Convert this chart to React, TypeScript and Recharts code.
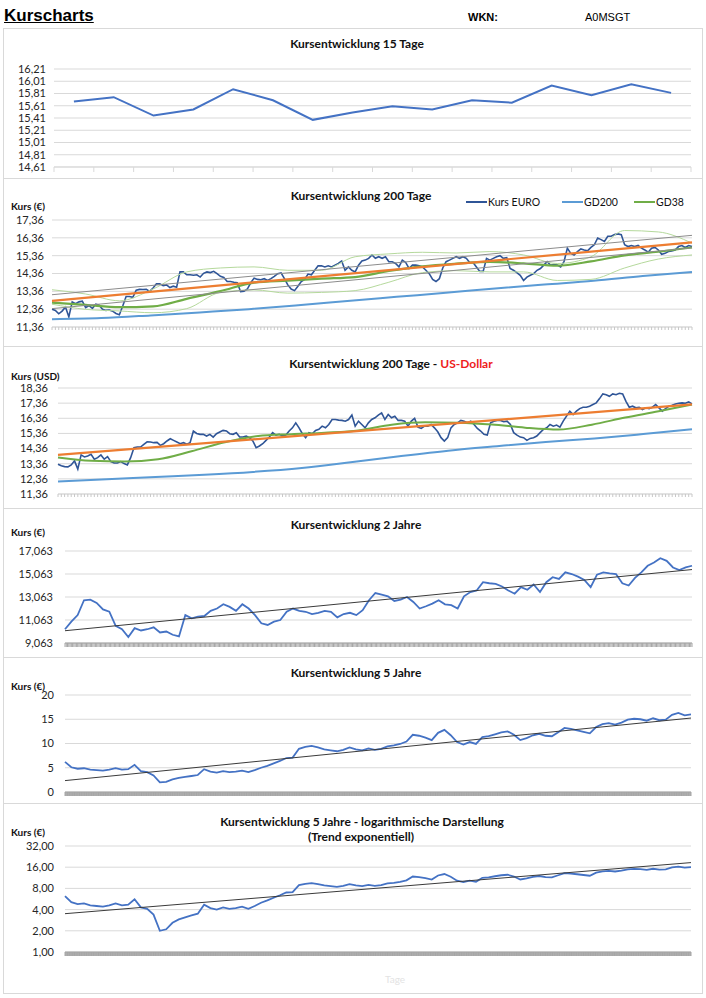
import React from 'react';
import { LineChart, Line, XAxis, YAxis, CartesianGrid } from 'recharts';

const FONT = "Lato, 'Open Sans', sans-serif";
const GRID = '#d9d9d9';
const INK = '#262626';

// Kursentwicklung 15 Tage
const kurs15 = [15.68, 15.75, 15.45, 15.55, 15.88, 15.7, 15.38, 15.5, 15.6, 15.55, 15.7, 15.66, 15.94, 15.78, 15.96, 15.82];
const ticks15 = [14.61, 14.81, 15.01, 15.21, 15.41, 15.61, 15.81, 16.01, 16.21];

// Kursentwicklung 200 Tage (EUR)
const kursEur = [
  12.35, 12.29, 12.1, 12.25, 12.48, 11.93, 12.77, 12.67, 12.77, 12.81,
  12.45, 12.56, 12.41, 12.64, 12.58, 12.35, 12.29, 12.31, 12.25, 12.12,
  12.05, 12.54, 13.07, 13.07, 13.02, 13.42, 13.47, 13.46, 13.47, 13.36,
  13.55, 13.78, 13.78, 13.68, 13.72, 13.57, 13.65, 13.59, 14.45, 14.45,
  14.29, 14.29, 14.26, 14.29, 14.16, 14.37, 14.45, 14.41, 14.48, 14.35,
  14.2, 14.14, 13.91, 13.91, 13.87, 13.84, 13.34, 13.36, 13.49, 13.84,
  14.1, 14.03, 14.01, 14.07, 13.97, 14.07, 14.2, 14.35, 14.39, 14.07,
  13.72, 13.49, 13.4, 13.65, 13.91, 14.03, 14.33, 14.29, 14.54, 14.79,
  14.79, 14.73, 14.79, 14.73, 14.83, 14.92, 15.06, 14.54, 14.73, 14.54,
  14.45, 14.83, 15.06, 15.11, 15.21,
  15.4, 15.21, 15.3, 15.21, 15.3, 15.02, 15.02, 14.92, 14.73, 15.11,
  14.98, 14.64, 14.83, 14.83, 14.79, 14.73, 14.54, 14.35, 14.03, 13.91,
  14.07, 14.67, 15.02, 15.11, 15.21, 15.3, 15.21, 15.3, 15.21, 14.98,
  14.98, 14.73, 14.48, 14.48, 15.21, 15.11, 15.21, 15.3, 15.36, 15.21,
  15.25, 14.64, 14.54, 14.41, 14.26, 13.97, 14.16, 14.26, 14.35, 14.54,
  14.64, 14.83, 15.02, 14.83, 14.86, 14.83, 14.73, 15.02, 15.78, 15.49,
  15.4, 15.59, 15.74, 15.68, 15.63, 15.82, 15.97, 16.35, 16.26, 16.16,
  16.45, 16.45, 16.54, 16.58, 16.54, 15.97, 15.87, 15.93, 15.87, 15.93,
  15.78, 15.68, 15.55, 15.78, 15.82, 15.68, 15.44, 15.49, 15.59, 15.63,
  15.68, 15.87, 15.93, 15.82, 15.93, 15.87,
];
const gd200Eur = [11.8, 11.86, 12.01, 12.18, 12.36, 12.58, 12.82, 13.05, 13.28, 13.52, 13.74, 13.95, 14.22, 14.45];
const gd38Eur = [12.73, 12.6, 12.47, 12.52, 12.94, 13.37, 13.85, 13.96, 14.07, 14.16, 14.5, 14.76, 14.91, 15.01, 14.93, 14.8, 15.04, 15.38, 15.58, 15.82];
const bandObenEur = [13.45, 13.21, 12.83, 13.49, 14.45, 14.67, 14.73, 14.54, 14.54, 15.3, 15.46, 15.55, 15.51, 15.59, 15.4, 14.92, 15.3, 16.77, 16.69, 16.06];
const bandUntenEur = [12.64, 12.35, 12.26, 12.16, 12.39, 13.3, 13.44, 13.26, 13.3, 13.4, 13.87, 14.41, 14.52, 14.45, 14.45, 13.97, 14.03, 14.67, 15.17, 15.4];
const trendEur = [12.83, 16.1];
const kanalObenEur = [13.17, 16.5];
const kanalUntenEur = [12.39, 15.8];
const ticksEur = [11.36, 12.36, 13.36, 14.36, 15.36, 16.36, 17.36];

// Kursentwicklung 200 Tage (USD)
const kursUsd = [
  13.33, 13.22, 13.17, 13.15, 13.28, 13.55, 13.0, 13.94, 13.81, 13.87,
  13.98, 13.66, 13.76, 13.94, 13.66, 13.83, 13.5, 13.41, 13.41, 13.5,
  13.37, 13.28, 13.76, 14.42, 14.46, 14.46, 14.64, 14.81, 14.79, 14.75,
  14.77, 14.57, 14.68, 14.86, 15.01, 14.9, 14.79, 14.68, 14.75, 14.64,
  14.75, 15.52, 15.36, 15.3, 15.3, 15.19, 15.3, 15.12, 15.34, 15.45,
  15.56, 15.52, 15.34, 15.3, 15.41, 15.12, 15.12, 15.19, 15.08, 14.86,
  14.42, 14.53, 14.68, 14.9, 15.12, 15.41, 15.25, 15.3, 15.19, 15.25,
  15.52, 15.73, 16.06, 15.73, 15.34, 15.08, 15.41, 15.34, 15.56, 15.63,
  15.84, 15.73, 15.95, 16.28, 16.28, 16.24, 16.22, 16.17, 16.28, 16.57,
  15.84, 16.17, 15.95, 15.73, 16.06, 16.28, 16.39,
  16.57, 16.72, 16.28, 16.61, 16.39, 16.5, 16.22, 16.22, 16.17, 15.84,
  16.17, 16.35, 15.78, 15.69, 15.84, 15.84, 15.95, 15.73, 15.47, 15.08,
  14.86, 15.08, 15.73, 15.95, 16.06, 16.22, 16.17, 16.06, 16.17, 15.95,
  15.69, 15.52, 15.3, 15.25, 16.06, 16.17, 16.22, 16.22, 16.13, 16.17,
  15.95, 15.41, 15.25, 15.12, 15.08, 14.9, 15.03, 15.08, 15.19, 15.41,
  15.63, 15.73, 15.95, 15.84, 15.91, 15.78, 16.17, 16.5, 16.83, 16.61,
  16.83, 17.0, 17.09, 17.09, 17.16, 17.27, 17.38, 17.66, 17.97, 17.92,
  17.81, 17.97, 17.92, 18.01, 17.97, 17.48, 17.09, 17.16, 17.05, 17.09,
  16.94, 17.05, 17.0, 17.09, 17.27, 17.05, 16.83, 17.0, 17.16, 17.22,
  17.31, 17.35, 17.38, 17.35, 17.44, 17.31,
];
const gd200Usd = [12.19, 12.33, 12.48, 12.63, 12.82, 13.08, 13.45, 13.85, 14.22, 14.52, 14.8, 15.03, 15.32, 15.63];
const gd38Usd = [13.77, 13.55, 13.5, 13.65, 14.18, 14.78, 15.19, 15.31, 15.41, 15.56, 15.94, 16.1, 16.07, 15.95, 15.74, 15.62, 15.94, 16.41, 16.82, 17.27];
const trendUsd = [13.94, 17.28];
const ticksUsd = [11.36, 12.36, 13.36, 14.36, 15.36, 16.36, 17.36, 18.36];

// Kursentwicklung 2 Jahre
const kurs2J = [
  10.26, 10.92, 11.49, 12.78, 12.83, 12.55, 11.98, 11.78, 10.55, 10.26,
  9.58, 10.35, 10.15, 10.26, 10.43, 9.98, 10.06, 9.78, 9.63, 11.49,
  11.21, 11.35, 11.41, 11.86, 12.06, 12.43, 12.2, 11.86, 12.43, 12.06,
  11.49, 10.78, 10.63, 10.92, 11.06, 11.78, 12.06, 11.86, 11.78, 11.58,
  11.69, 11.86, 11.78, 11.29, 11.58, 11.69, 11.49, 11.92, 12.78, 13.41,
  13.26, 13.12, 12.72, 12.83, 13.06, 12.63, 12.06, 12.26, 12.49, 12.78,
  12.43, 12.35, 12.06, 13.12, 13.49, 13.63, 14.35, 14.26, 14.21, 13.98,
  13.63, 13.35, 13.92, 13.69, 14.15, 13.49, 14.35, 14.78, 14.63, 15.21,
  15.06, 14.83, 14.55, 13.92, 15.01, 15.21, 15.12, 15.06, 14.26, 14.06,
  14.72, 15.21, 15.78, 16.06, 16.43, 16.21, 15.63, 15.41, 15.63, 15.78,
];
const trend2J = [10.13, 15.45];
const ticks2J = [9.063, 11.063, 13.063, 15.063, 17.063];

// Kursentwicklung 5 Jahre (linear und logarithmisch)
const kurs5J = [
  6.2, 5.1, 4.8, 4.9, 4.6, 4.5, 4.4, 4.6, 4.9, 4.6,
  4.7, 5.6, 4.3, 4.1, 3.4, 2.0, 2.1, 2.6, 2.9, 3.1,
  3.3, 3.5, 4.7, 4.2, 4.0, 4.3, 4.1, 4.2, 4.4, 4.1,
  4.5, 5.0, 5.4, 5.9, 6.4, 7.0, 7.1, 8.9, 9.3, 9.5,
  9.2, 8.8, 8.6, 8.4, 8.7, 9.2, 8.8, 8.6, 9.0, 8.7,
  8.9, 9.4, 9.6, 9.9, 10.4, 11.8, 11.6, 11.2, 10.7, 12.2,
  12.8, 11.7, 10.3, 9.8, 10.3, 9.9, 11.3, 11.5, 11.9, 12.3,
  12.5, 11.8, 10.7, 11.1, 11.7, 12.0, 11.6, 11.5, 12.3, 13.2,
  13.0, 12.7, 12.4, 12.1, 13.4, 14.0, 14.2, 13.9, 14.3, 14.9,
  15.1, 15.0, 14.7, 15.2, 14.8, 14.9, 15.9, 16.3, 15.8, 16.0,
];
const trend5J = [2.35, 15.25];
const trend5JExp = [3.5, 18.6];
const ticks5J = [0, 5, 10, 15, 20];
const ticks5JLog = [1, 2, 4, 8, 16, 32];

type Pt = { x: number; v: number };
const series = (vals: number[]): Pt[] => vals.map((v, i) => ({ x: i, v }));
const spread = (vals: number[], last: number): Pt[] =>
  vals.map((v, i) => ({ x: (i * last) / (vals.length - 1), v }));
const comb = (last: number, step: number) => {
  const out: number[] = [];
  for (let t = 0; t <= last + 1e-9; t += step) out.push(Math.round(t * 1000) / 1000);
  return out;
};
const fmt = (d: number) => (v: number) => v.toFixed(d).replace('.', ',');

// tick marks only, no labels on the category axis
const NoLabel = () => <g />;

type Box = { top: number; bottom: number; pt: number; pb: number; pl: number; pr: number };
const XH = 6;

function Chart({ box, children }: { box: Box; children: React.ReactNode }) {
  const h = box.bottom - box.top;
  return (
    <div style={{ position: 'absolute', left: 0, top: box.top, width: 706, height: h }}>
      <LineChart
        width={706}
        height={h}
        margin={{ top: box.pt - box.top, right: 706 - box.pr, bottom: box.bottom - box.pb - XH, left: 0 }}
      >
        {children}
      </LineChart>
    </div>
  );
}

const tickStyle = { fontSize: 11, fill: INK, fontFamily: FONT };

function Title({ cx, cy, children }: { cx: number; cy: number; children: React.ReactNode }) {
  return (
    <div
      style={{
        position: 'absolute', left: cx - 250, width: 500, top: cy - 7, height: 14, lineHeight: '14px',
        textAlign: 'center', fontFamily: FONT, fontWeight: 700, fontSize: 12, color: '#111',
      }}
    >
      {children}
    </div>
  );
}

function AxisLabel({ x, cy, text }: { x: number; cy: number; text: string }) {
  return (
    <div
      style={{
        position: 'absolute', left: x, top: cy - 5, height: 10, lineHeight: '10px',
        fontFamily: FONT, fontWeight: 700, fontSize: 10, color: '#111', whiteSpace: 'nowrap',
      }}
    >
      {text}
    </div>
  );
}

function Frame({ top, bottom }: { top: number; bottom: number }) {
  return (
    <div
      style={{
        position: 'absolute', left: 3, top, width: 700, height: bottom - top + 1,
        border: `1px solid ${GRID}`, boxSizing: 'border-box',
      }}
    />
  );
}

const legendItems = [
  { label: 'Kurs EURO', color: '#2f5597', x: 466 },
  { label: 'GD200', color: '#5b9bd5', x: 562 },
  { label: 'GD38', color: '#70ad47', x: 634 },
];

const P1: Box = { top: 28, bottom: 178, pt: 69, pb: 167, pl: 54, pr: 691 };
const P2: Box = { top: 178, bottom: 346, pt: 220, pb: 327, pl: 52, pr: 692 };
const P3: Box = { top: 346, bottom: 508, pt: 388, pb: 494, pl: 58, pr: 692 };
const P4: Box = { top: 508, bottom: 657, pt: 551, pb: 643, pl: 65, pr: 692 };
const P5: Box = { top: 657, bottom: 803, pt: 695, pb: 792, pl: 65, pr: 691 };
const P6: Box = { top: 803, bottom: 993, pt: 846, pb: 952, pl: 65, pr: 691 };

export default function App() {
  const eurLast = kursEur.length - 1;
  const usdLast = kursUsd.length - 1;
  const j2Last = kurs2J.length - 1;
  const j5Last = kurs5J.length - 1;

  const yAxisCommon = { axisLine: false, tickLine: false, tickSize: 0, tick: tickStyle, interval: 0 as const };
  const bandAxis = {
    type: 'number' as const, dataKey: 'x', interval: 0 as const, tick: NoLabel, tickSize: 4, height: XH,
    axisLine: { stroke: '#a6a6a6' }, tickLine: { stroke: '#a6a6a6' },
  };

  return (
    <div style={{ position: 'absolute', left: 0, top: 0, width: 706, height: 998, background: '#fff', overflow: 'hidden' }}>
      {/* Kopf */}
      <div
        style={{
          position: 'absolute', left: 4, top: 7, fontFamily: "'Liberation Sans', Arial, sans-serif",
          fontWeight: 700, fontSize: 17, lineHeight: '18px', textDecoration: 'underline', color: '#000',
        }}
      >
        Kurscharts
      </div>
      <div style={{ position: 'absolute', left: 468, top: 11, fontFamily: "'Liberation Sans', Arial, sans-serif", fontWeight: 700, fontSize: 11, lineHeight: '13px' }}>
        WKN:
      </div>
      <div style={{ position: 'absolute', left: 585, top: 11, fontFamily: "'Liberation Sans', Arial, sans-serif", fontSize: 11, lineHeight: '13px' }}>
        A0MSGT
      </div>

      {[P1, P2, P3, P4, P5, P6].map((p, i) => (
        <Frame key={i} top={p.top} bottom={p.bottom} />
      ))}

      {/* 15 Tage */}
      <Title cx={357} cy={44}>Kursentwicklung 15 Tage</Title>
      <Chart box={P1}>
        <CartesianGrid stroke={GRID} vertical={false} />
        <XAxis
          type="number" dataKey="x" domain={[0, kurs15.length]} ticks={comb(kurs15.length, 1)} interval={0}
          tick={NoLabel} tickSize={5} height={XH} axisLine={{ stroke: GRID }} tickLine={{ stroke: GRID }}
        />
        <YAxis
          {...yAxisCommon} width={P1.pl} domain={[14.61, 16.21]} ticks={ticks15} tickMargin={8}
          tickFormatter={fmt(2)}
        />
        <Line
          data={kurs15.map((v, i) => ({ x: i + 0.5, v }))} dataKey="v" type="linear" dot={false}
          stroke="#4472c4" strokeWidth={2} isAnimationActive={false}
        />
      </Chart>

      {/* 200 Tage EUR */}
      <Title cx={361} cy={196}>Kursentwicklung 200 Tage</Title>
      <AxisLabel x={11} cy={206} text="Kurs (€)" />
      {legendItems.map((it) => (
        <div key={it.label} style={{ position: 'absolute', left: it.x, top: 195, height: 14, display: 'flex', alignItems: 'center' }}>
          <div style={{ width: 21, height: 2, background: it.color }} />
          <span style={{ fontFamily: FONT, fontSize: 10.5, color: '#111', marginLeft: 1 }}>{it.label}</span>
        </div>
      ))}
      <Chart box={P2}>
        <CartesianGrid stroke={GRID} vertical={false} />
        <XAxis
          type="number" dataKey="x" domain={[0, eurLast]} ticks={comb(eurLast, 1)} interval={0}
          tick={NoLabel} tickSize={3} height={XH} axisLine={{ stroke: GRID }} tickLine={{ stroke: '#c8c8c8' }}
        />
        <YAxis {...yAxisCommon} width={P2.pl} domain={[11.36, 17.36]} ticks={ticksEur} tickMargin={8} tickFormatter={fmt(2)} />
        <Line data={series(kursEur)} dataKey="v" type="linear" dot={false} stroke="#2f5597" strokeWidth={1.6} isAnimationActive={false} />
        <Line data={spread(gd200Eur, eurLast)} dataKey="v" type="monotone" dot={false} stroke="#5b9bd5" strokeWidth={2} isAnimationActive={false} />
        <Line data={spread(gd38Eur, eurLast)} dataKey="v" type="monotone" dot={false} stroke="#70ad47" strokeWidth={2.2} isAnimationActive={false} />
        <Line data={spread(bandObenEur, eurLast)} dataKey="v" type="monotone" dot={false} stroke="#b5d99c" strokeWidth={1} isAnimationActive={false} />
        <Line data={spread(bandUntenEur, eurLast)} dataKey="v" type="monotone" dot={false} stroke="#b5d99c" strokeWidth={1} isAnimationActive={false} />
        <Line data={spread(kanalObenEur, eurLast)} dataKey="v" type="linear" dot={false} stroke="#8c8c8c" strokeWidth={1} isAnimationActive={false} />
        <Line data={spread(kanalUntenEur, eurLast)} dataKey="v" type="linear" dot={false} stroke="#8c8c8c" strokeWidth={1} isAnimationActive={false} />
        <Line data={spread(trendEur, eurLast)} dataKey="v" type="linear" dot={false} stroke="#ed7d31" strokeWidth={2.2} isAnimationActive={false} />
      </Chart>

      {/* 200 Tage USD */}
      <Title cx={391} cy={364}>
        Kursentwicklung 200 Tage - <span style={{ color: '#ee1c1c' }}>US-Dollar</span>
      </Title>
      <AxisLabel x={11} cy={376} text="Kurs (USD)" />
      <Chart box={P3}>
        <CartesianGrid stroke={GRID} vertical={false} />
        <XAxis
          type="number" dataKey="x" domain={[0, usdLast]} ticks={comb(usdLast, 1)} interval={0}
          tick={NoLabel} tickSize={3} height={XH} axisLine={{ stroke: GRID }} tickLine={{ stroke: '#c8c8c8' }}
        />
        <YAxis {...yAxisCommon} width={P3.pl} domain={[11.36, 18.36]} ticks={ticksUsd} tickMargin={10} tickFormatter={fmt(2)} />
        <Line data={series(kursUsd)} dataKey="v" type="linear" dot={false} stroke="#2f5597" strokeWidth={1.6} isAnimationActive={false} />
        <Line data={spread(gd200Usd, usdLast)} dataKey="v" type="monotone" dot={false} stroke="#5b9bd5" strokeWidth={2} isAnimationActive={false} />
        <Line data={spread(gd38Usd, usdLast)} dataKey="v" type="monotone" dot={false} stroke="#70ad47" strokeWidth={2} isAnimationActive={false} />
        <Line data={spread(trendUsd, usdLast)} dataKey="v" type="linear" dot={false} stroke="#ed7d31" strokeWidth={2.2} isAnimationActive={false} />
      </Chart>

      {/* 2 Jahre */}
      <Title cx={356} cy={525}>Kursentwicklung 2 Jahre</Title>
      <AxisLabel x={11} cy={532} text="Kurs (€)" />
      <Chart box={P4}>
        <CartesianGrid stroke={GRID} vertical={false} />
        <XAxis {...bandAxis} domain={[0, j2Last]} ticks={comb(j2Last, 0.2)} />
        <YAxis {...yAxisCommon} width={P4.pl} domain={[9.063, 17.063]} ticks={ticks2J} tickMargin={12} tickFormatter={fmt(3)} />
        <Line data={series(kurs2J)} dataKey="v" type="linear" dot={false} stroke="#4472c4" strokeWidth={1.8} isAnimationActive={false} />
        <Line data={spread(trend2J, j2Last)} dataKey="v" type="linear" dot={false} stroke="#3a3a3a" strokeWidth={1} isAnimationActive={false} />
      </Chart>

      {/* 5 Jahre */}
      <Title cx={356} cy={673}>Kursentwicklung 5 Jahre</Title>
      <AxisLabel x={11} cy={686} text="Kurs (€)" />
      <Chart box={P5}>
        <CartesianGrid stroke={GRID} vertical={false} />
        <XAxis {...bandAxis} domain={[0, j5Last]} ticks={comb(j5Last, 0.1)} />
        <YAxis {...yAxisCommon} width={P5.pl} domain={[0, 20]} ticks={ticks5J} tickMargin={11} tickFormatter={(v: number) => String(v)} />
        <Line data={series(kurs5J)} dataKey="v" type="linear" dot={false} stroke="#4472c4" strokeWidth={1.8} isAnimationActive={false} />
        <Line data={spread(trend5J, j5Last)} dataKey="v" type="linear" dot={false} stroke="#3a3a3a" strokeWidth={1} isAnimationActive={false} />
      </Chart>

      {/* 5 Jahre logarithmisch */}
      <Title cx={362} cy={822}>Kursentwicklung 5 Jahre - logarithmische Darstellung</Title>
      <Title cx={361} cy={837}>(Trend exponentiell)</Title>
      <AxisLabel x={11} cy={832} text="Kurs (€)" />
      <Chart box={P6}>
        <CartesianGrid stroke={GRID} vertical={false} />
        <XAxis {...bandAxis} domain={[0, j5Last]} ticks={comb(j5Last, 0.1)} />
        <YAxis
          {...yAxisCommon} width={P6.pl} scale="log" domain={[1, 32]} allowDataOverflow ticks={ticks5JLog}
          tickMargin={11} tickFormatter={fmt(2)}
        />
        <Line data={series(kurs5J)} dataKey="v" type="linear" dot={false} stroke="#4472c4" strokeWidth={1.8} isAnimationActive={false} />
        <Line data={spread(trend5JExp, j5Last)} dataKey="v" type="linear" dot={false} stroke="#3a3a3a" strokeWidth={1} isAnimationActive={false} />
      </Chart>
      <div style={{ position: 'absolute', left: 385, top: 973, fontFamily: FONT, fontSize: 10, color: '#e3e3e3' }}>Tage</div>
    </div>
  );
}
